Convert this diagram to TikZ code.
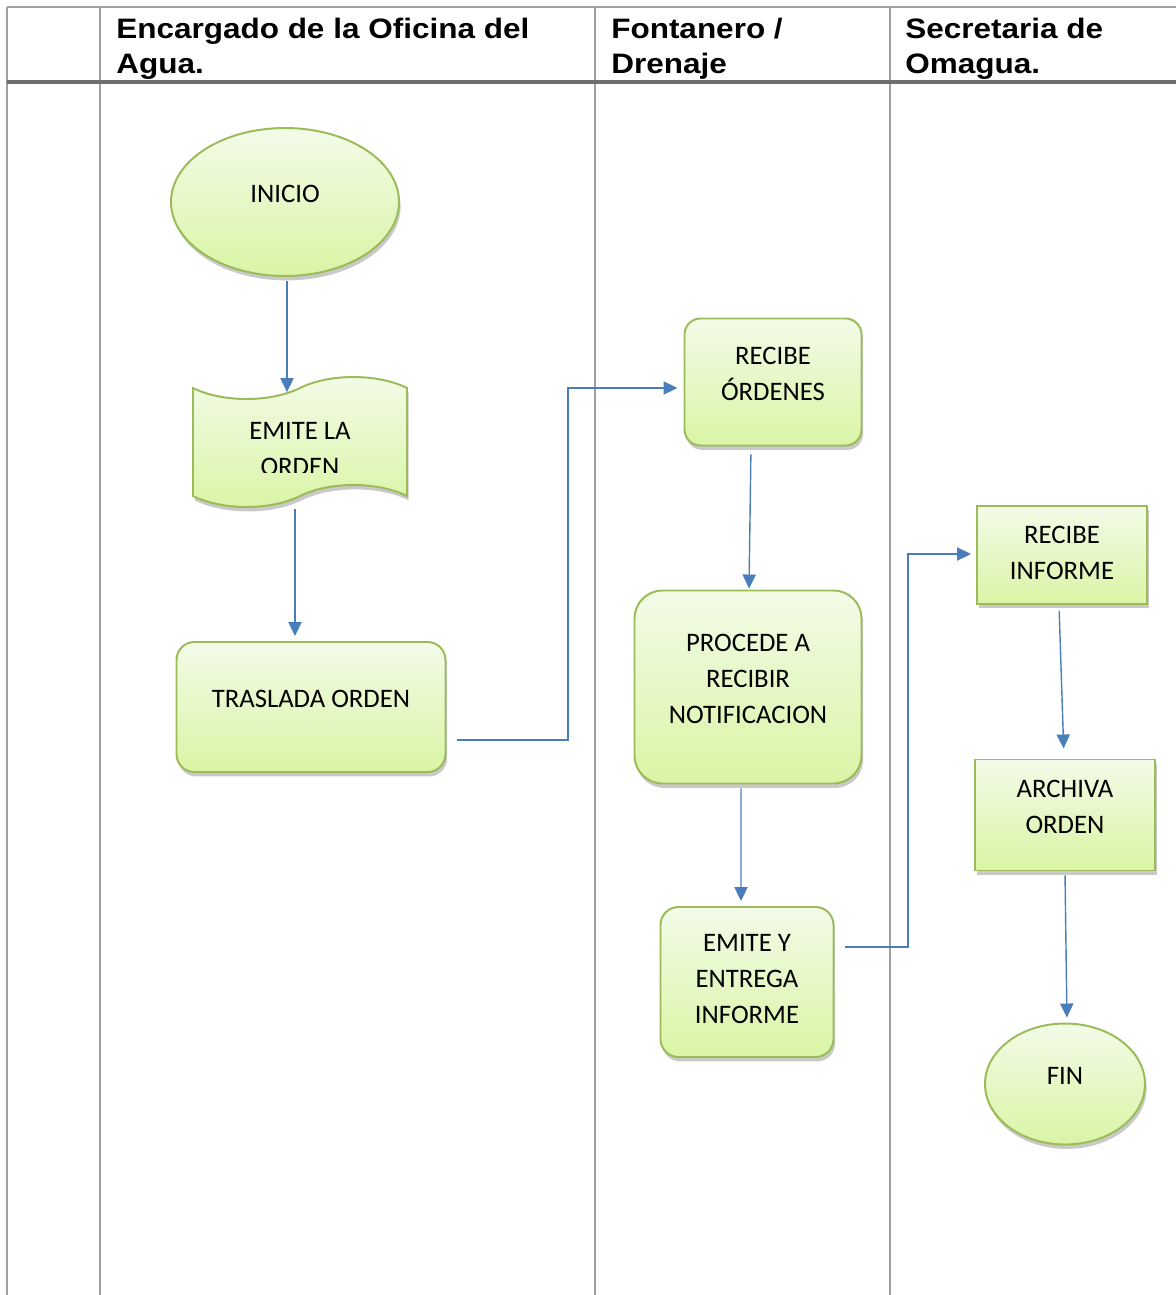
\documentclass[tikz,border=0pt]{standalone}
\usepackage{fontspec}
\setmainfont{Carlito}
\newfontfamily\headfont[FakeStretch=1.12]{Liberation Sans}
\usetikzlibrary{positioning,calc,arrows.meta,shapes.geometric,shapes.symbols,shadows}

\definecolor{boxline}{HTML}{9BBB59}
\definecolor{boxtop}{HTML}{F3FBE8}
\definecolor{boxbot}{HTML}{D9F5A5}
\definecolor{flow}{HTML}{4A7EBB}
\definecolor{lanegray}{HTML}{A0A0A0}
\definecolor{headgray}{HTML}{6E6E6E}

\begin{document}
\begin{tikzpicture}[
	x=0.25mm, y=-0.25mm,
	font=\fontsize{19}{25.6}\selectfont,
	base/.style = {
		draw=boxline, line width=1.4pt, align=center, inner sep=0pt,
		top color=boxtop, bottom color=boxbot, text depth=4mm,
		drop shadow={shadow xshift=0.4mm, shadow yshift=-1.1mm,
		             opacity=.3, fill=black!70}},
	term/.style = {base, ellipse},
	proc/.style = {base, rounded corners=4.5mm},
	plain/.style = {base},
	doc/.style = {base, tape, tape bend height=5.5mm},
	head/.style = {
		font=\headfont\bfseries\fontsize{20}{25}\selectfont,
		align=left, anchor=north west, inner sep=0pt},
	lane/.style = {draw=lanegray, line width=1.2pt},
	arrow/.style = {draw=flow, line width=1pt,
		-{Triangle[length=3.5mm,width=3.3mm]},
		shorten <=1mm, shorten >=1.25mm}
]
\useasboundingbox (0,0) rectangle (1176,1295);

% lanes
\draw[lane] (7,7) -- (1176,7);
\foreach \x in {7,100,595,890}
	\draw[lane] (\x,7) -- (\x,1295);
\draw[draw=headgray, line width=2.3pt] (7,82) -- (1176,82);

\node (h1) [head] at (116,18) {Encargado de la Oficina del\\Agua.};
\node (h2) [head] at (611,18) {Fontanero /\\Drenaje};
\node (h3) [head] at (905,18) {Secretaria de\\Omagua.};

% shapes
\node (inicio)  [term, minimum width=57mm, minimum height=37mm]
                at (285,202) {INICIO};
\node (emite)   [doc, minimum width=53.5mm, minimum height=32.5mm]
                at (300,442) {};
\begin{scope}
	\clip (193,400) rectangle (407,472);
	\node (emitetxt) [align=center] at (300,449) {EMITE LA\\ORDEN};
\end{scope}
\node (traslada) [proc, minimum width=67.25mm, minimum height=32.5mm]
                at (311,707) {TRASLADA ORDEN};

\node (record)  [proc, rounded corners=4mm,
                 minimum width=44.25mm, minimum height=31.75mm]
                at (773,382) {RECIBE\\ÓRDENES};
\node (procede) [proc, rounded corners=7mm,
                 minimum width=56.75mm, minimum height=48.25mm]
                at (748,687) {PROCEDE A\\RECIBIR\\NOTIFICACION};
\node (entrega) [proc, text depth=1.5mm,
                 minimum width=43.25mm, minimum height=37.5mm]
                at (747,982) {EMITE Y\\ENTREGA\\INFORME};

\node (recinf)  [plain, text depth=1mm,
                 minimum width=42.5mm, minimum height=24.5mm]
                at (1062,555) {RECIBE\\INFORME};
\node (archiva) [plain, minimum width=45mm, minimum height=27.75mm]
                at (1065,815) {ARCHIVA\\ORDEN};
\node (fin)     [term, minimum width=40mm, minimum height=30.25mm]
                at (1065,1084) {FIN};

% connectors
\coordinate (k1) at (568,388);
\coordinate (k2) at (908,554);

\draw[arrow] ([xshift=.5mm]inicio.south)
	-- ([xshift=.5mm,yshift=-2.5mm]inicio.south |- emite.north);
\draw[arrow] ([xshift=-1.25mm,yshift=-2mm]emite.south)
	-- ([xshift=-1.25mm]emite.south |- traslada.north);
\draw[arrow, shorten <=2.75mm, shorten >=1.5mm]
	([yshift=-8.25mm]traslada.east) -| (k1) -- (record.west |- k1);
\draw[arrow, shorten <=2mm, shorten >=0.25mm]
	([xshift=-5.5mm]record.south) -- ([xshift=.25mm]procede.north);
\draw[arrow] ([xshift=-1.75mm]procede.south) -- ([xshift=-1.5mm]entrega.north);
\draw[arrow, shorten <=2.75mm]
	([yshift=8.75mm]entrega.east) -| (k2) -- (recinf.west |- k2);
\draw[arrow, shorten <=1.5mm, shorten >=2.5mm]
	([xshift=-.75mm]recinf.south) -- ([xshift=-.25mm]archiva.north);
\draw[arrow] (archiva.south) -- ([xshift=.5mm]fin.north);
\end{tikzpicture}
\end{document}
